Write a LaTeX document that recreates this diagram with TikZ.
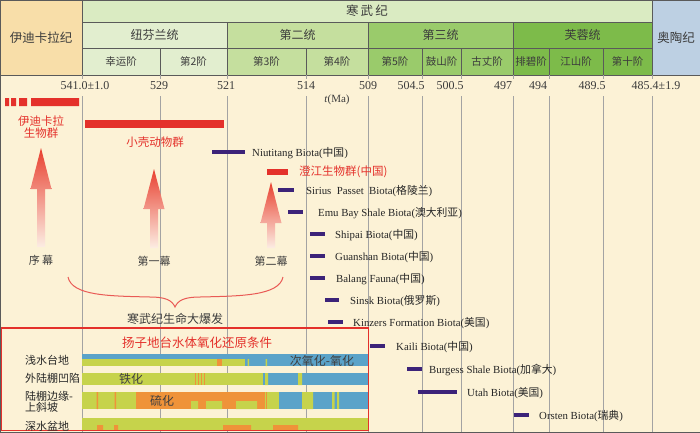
\documentclass[tikz,border=0pt]{standalone}
\usepackage{fontspec}
\setmainfont{Liberation Serif}
\newfontfamily\cjk{Noto Sans CJK SC}
\newcommand{\zhs}[1]{{\cjk #1}}

\definecolor{cream}{HTML}{FCF2D6}
\definecolor{edia}{HTML}{F8DEA9}
\definecolor{cambtop}{HTML}{DAEBC2}
\definecolor{ser1}{HTML}{E2EECF}
\definecolor{ser2}{HTML}{C5DF9E}
\definecolor{ser3}{HTML}{9ACB6B}
\definecolor{ser4}{HTML}{7DBB4A}
\definecolor{ordo}{HTML}{BDD0E3}
\definecolor{hdrline}{HTML}{5A5A5A}
\definecolor{hdrtext}{HTML}{3C3C3C}
\definecolor{gridgray}{HTML}{A3A3A3}
\definecolor{redbar}{HTML}{E4312B}
\definecolor{biopurple}{HTML}{3C2379}
\definecolor{oxblue}{HTML}{5BA3C9}
\definecolor{fegreen}{HTML}{C6D34B}
\definecolor{sorange}{HTML}{EF9339}
\definecolor{actred}{HTML}{E8402F}
\definecolor{actpale}{HTML}{FCEDE3}

\tikzset{
  cell/.style={draw=hdrline, line width=0.7pt, inner sep=0pt, text=hdrtext, font=\cjk\fontsize{10.5}{12}\selectfont},
  serie/.style={cell, font=\cjk\fontsize{12}{12}\selectfont},
  gridline/.style={draw=gridgray, line width=1pt},
  tick/.style={inner sep=0pt, text=hdrtext, font=\fontsize{12}{12}\selectfont},
  biobar/.style={fill=biopurple, draw=none},
  biolbl/.style={anchor=west, inner sep=0pt, text=black!85, font=\fontsize{10.8}{12}\selectfont},
  redlbl/.style={inner sep=0pt, align=center, text=redbar, font=\cjk\fontsize{11.5}{12.5}\selectfont},
  actlbl/.style={inner sep=0pt, text=hdrtext, font=\cjk\fontsize{11}{12}\selectfont},
  rowlbl/.style={anchor=west, inner sep=0pt, align=left, text=black!85, font=\cjk\fontsize{11}{10.5}\selectfont},
  barlbl/.style={inner sep=0pt, text=black!75, font=\cjk\fontsize{12}{12}\selectfont},
}

\begin{document}
\begin{tikzpicture}[x=1pt, y=-1pt]
\useasboundingbox (0,0) rectangle (700,432);
\fill[cream] (0,75) rectangle (700,432);

% time scale header
\node[cell, fill=edia, minimum width=82pt, minimum height=75pt, font=\cjk\fontsize{12.5}{12}\selectfont] (edi) at (41,37.5) {伊迪卡拉纪};
\node[cell, fill=cambtop, minimum width=570pt, minimum height=22pt, font=\cjk\fontsize{12.5}{12}\selectfont] (camb) at (367,11) {寒\,武\,纪};
\node[cell, fill=ordo, minimum width=48pt, minimum height=75pt, font=\cjk\fontsize{12.5}{12}\selectfont] (ord) at (676,37.5) {奥陶纪};
\foreach \xa/\xb/\col/\txt [count=\i] in {82/227/ser1/纽芬兰统, 227/368/ser2/第二统, 368/513/ser3/第三统, 513/652/ser4/芙蓉统}
  \node[serie, fill=\col, minimum width={(\xb-\xa)*1pt}, minimum height=26pt] (se\i) at ({(\xa+\xb)/2},35) {\txt};
\foreach \xa/\xb/\col/\txt [count=\i] in {82/160/ser1/幸运阶, 160/227/ser1/第2阶, 227/306/ser2/第3阶, 306/368/ser2/第4阶,
    368/422/ser3/第5阶, 422/461/ser3/鼓山阶, 461/513/ser3/古丈阶, 513/549/ser4/排碧阶, 549/603/ser4/江山阶, 603/652/ser4/第十阶}
  \node[cell, fill=\col, minimum width={(\xb-\xa)*1pt}, minimum height=27pt] (st\i) at ({(\xa+\xb)/2},61.5) {\txt};

% boundaries
\foreach \x in {82,160,227,306,368,422,461,513,549,603,652}
  \draw[gridline] (\x,75) -- (\x,79) (\x,96) -- (\x,432);
\foreach \x/\t [count=\i] in {85/541.0±1.0, 159/529, 226/521, 306/514, 368/509, 411/504.5, 450/500.5, 503/497, 538/494, 592/489.5, 656/485.4±1.9}
  \node[tick] (t\i) at (\x,86) {\t};
\node[tick, font=\fontsize{11}{12}\selectfont] (tma) at (337,100) {\textit{t}(Ma)};

% biotas
\fill[redbar] (5,98) rectangle (9,106) (11,98) rectangle (16,106) (19,98) rectangle (27,106) (31,98) rectangle (79,106);
\node[redlbl] (ediabio) at (41,127) {伊迪卡拉\\生物群};
\fill[redbar] (85,120) rectangle (224,128);
\node[redlbl] (sse) at (155,142) {小壳动物群};
\fill[redbar] (267,169) rectangle (288,175);
\node[redlbl, anchor=west] (chj) at (299,172) {澄江生物群(中国)};
\foreach \xa/\xb/\y/\lx/\txt [count=\i] in {
    212/245/152/252/{Niutitang Biota(\zhs{中国})},
    278/294/190/306/{Sirius\ \ Passet\ \ Biota(\zhs{格陵兰})},
    288/303/212/318/{Emu Bay Shale Biota(\zhs{澳大利亚})},
    310/325/234/335/{Shipai Biota(\zhs{中国})},
    310/325/256/335/{Guanshan Biota(\zhs{中国})},
    310/325/278/336/{Balang Fauna(\zhs{中国})},
    325/339/300/350/{Sinsk Biota(\zhs{俄罗斯})},
    328/343/322/353/{Kinzers Formation Biota(\zhs{美国})},
    370/385/346/396/{Kaili Biota(\zhs{中国})},
    407/422/369/429/{Burgess Shale Biota(\zhs{加拿大})},
    418/457/392/467/{Utah Biota(\zhs{美国})},
    514/529/415/539/{Orsten Biota(\zhs{瑞典})}} {
  \fill[biobar] (\xa,\y-2.2) rectangle (\xb,\y+2.2);
  \node[biolbl] (bio\i) at (\lx,\y+1) {\txt};
}

% acts of the explosion
\foreach \x/\tip/\base/\bot/\txt [count=\i] in {41/148/189/247/序\ 幕, 154/169/209/248/第一幕, 271/182/223/248/第二幕} {
  \shade[top color=actred, bottom color=actpale] (\x-4,\bot) -- (\x-4,\base) -- (\x-10.5,\base) -- (\x,\tip)
    -- (\x+10.5,\base) -- (\x+4,\base) -- (\x+4,\bot) -- cycle;
  \node[actlbl] (act\i) at (\x,\bot+13) {\txt};
}
\draw[redbar!80, line width=1pt] (68,277) .. controls (72,296) and (110,296) .. (150,297)
  .. controls (165,297) and (172,300) .. (175,307) .. controls (178,300) and (185,297) .. (200,297)
  .. controls (240,296) and (279,296) .. (283,277);
\node[actlbl, font=\cjk\fontsize{12}{12}\selectfont] (boom) at (175,319) {寒武纪生命大爆发};

% redox conditions
\fill[cream] (1.5,328) rectangle (368.5,430.5);
\foreach \x in {82,160,227,306,368}
  \draw[gridline] (\x,328) -- (\x,430);
% shallow platform
\fill[oxblue] (82,354) rectangle (368,359);
\fill[fegreen] (82,359) rectangle (245,366);
\fill[sorange] (217,359) rectangle (222,366);
\fill[oxblue] (245,359) rectangle (368,366);
\fill[fegreen] (247.5,359) rectangle (249,366) (265.5,359) rectangle (267,366);
% outer shelf depression
\fill[fegreen] (82,373) rectangle (263,385);
\foreach \x in {195,198,201,204} \fill[sorange] (\x,373) rectangle (\x+1.2,385);
\fill[oxblue] (263,373) rectangle (368,385);
\fill[fegreen] (265,373) rectangle (268,385) (298,373) rectangle (302,385);
% shelf margin - upper slope
\fill[fegreen] (82,392) rectangle (136,409);
\fill[sorange] (96.5,392) rectangle (98,409) (114.5,392) rectangle (116,409);
\fill[sorange] (136,392) rectangle (265,409);
\fill[fegreen] (191,401) rectangle (198,409) (206,401) rectangle (222,409) (236,401) rectangle (257,409);
\fill[fegreen] (265,392) rectangle (279,409);
\fill[sorange] (265.5,392) rectangle (267,409);
\fill[oxblue] (279,392) rectangle (368,409);
\fill[fegreen] (302,392) rectangle (313,409) (332,392) rectangle (334.5,409) (337,392) rectangle (339,409);
% deep basin
\fill[fegreen] (82,418) rectangle (368,430);
\fill[sorange] (97,425) rectangle (103,430) (114,425) rectangle (118,430) (223,425) rectangle (251,430) (273,425) rectangle (298,430);
\draw[redbar, line width=1.2pt] (1.5,328) rectangle (368.5,430.5);

\node[redlbl, font=\cjk\fontsize{12.5}{12}\selectfont] (ttl) at (197,343) {扬子地台水体氧化还原条件};
\node[rowlbl] (r1) at (25,360) {浅水台地};
\node[rowlbl] (r2) at (25,378) {外陆棚凹陷};
\node[rowlbl] (r3) at (25,402) {陆棚边缘-\\上斜坡};
\node[rowlbl] (r4) at (25,426) {深水盆地};
\node[barlbl] (ox) at (322,361) {次氧化-氧化};
\node[barlbl] (fe) at (131,379) {铁化};
\node[barlbl] (su) at (162,401) {硫化};

\draw[hdrline, line width=0.6pt] (0,0) rectangle (700,432);
\end{tikzpicture}
\end{document}
